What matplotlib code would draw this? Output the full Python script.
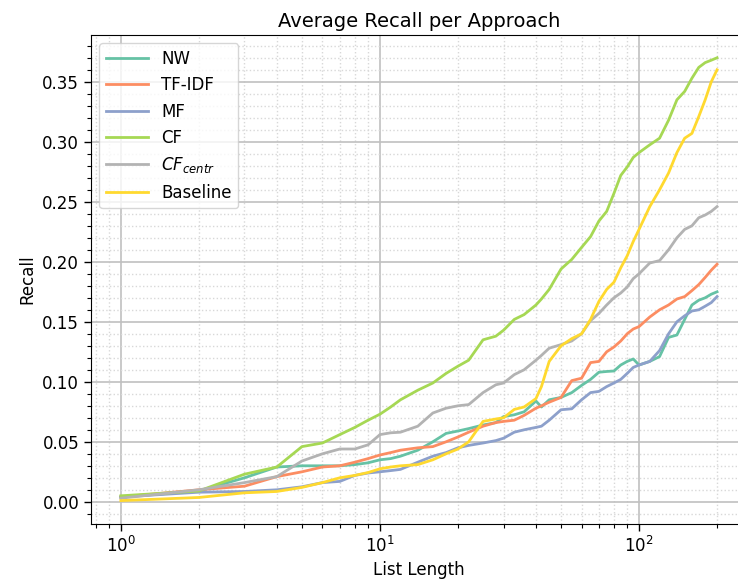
import matplotlib
matplotlib.use("Agg")
import matplotlib.pyplot as plt
from matplotlib.ticker import MultipleLocator

list_length = [1, 2, 3, 4, 5, 6, 7, 8, 9, 10, 11, 12, 14, 16, 18, 20, 22, 25, 28, 30,
               33, 36, 40, 42, 45, 50, 55, 60, 65, 70, 75, 80, 85, 90, 95, 100,
               110, 120, 130, 140, 150, 160, 170, 180, 190, 200]

recall_nw = [0.004, 0.009, 0.020, 0.029, 0.030, 0.030, 0.030, 0.031, 0.0325, 0.035,
             0.036, 0.038, 0.043, 0.050, 0.057, 0.059, 0.061, 0.064, 0.066, 0.071,
             0.0725, 0.075, 0.084, 0.079, 0.085, 0.087, 0.091, 0.097, 0.102, 0.108,
             0.1086, 0.109, 0.114, 0.117, 0.119, 0.114, 0.117, 0.121, 0.137, 0.139,
             0.152, 0.164, 0.168, 0.170, 0.173, 0.175]
recall_tfidf = [0.004, 0.010, 0.013, 0.021, 0.025, 0.029, 0.030, 0.033, 0.036, 0.039,
                0.041, 0.043, 0.045, 0.046, 0.050, 0.054, 0.058, 0.063, 0.066, 0.067,
                0.068, 0.072, 0.078, 0.080, 0.083, 0.087, 0.101, 0.103, 0.116, 0.117,
                0.125, 0.129, 0.134, 0.140, 0.144, 0.146, 0.154, 0.160, 0.164, 0.169,
                0.171, 0.176, 0.181, 0.187, 0.193, 0.198]
recall_mf = [0.004, 0.008, 0.0086, 0.010, 0.0125, 0.016, 0.017, 0.022, 0.024, 0.025,
             0.026, 0.027, 0.033, 0.038, 0.041, 0.045, 0.047, 0.049, 0.051, 0.053,
             0.058, 0.060, 0.062, 0.063, 0.068, 0.0767, 0.0775, 0.085, 0.091, 0.092,
             0.096, 0.099, 0.102, 0.107, 0.112, 0.114, 0.117, 0.126, 0.140, 0.150,
             0.155, 0.159, 0.160, 0.163, 0.166, 0.171]
recall_cf = [0.005, 0.009, 0.023, 0.029, 0.046, 0.049, 0.056, 0.062, 0.068, 0.073,
             0.079, 0.085, 0.093, 0.099, 0.107, 0.113, 0.118, 0.135, 0.138, 0.143,
             0.152, 0.156, 0.164, 0.169, 0.177, 0.194, 0.202, 0.212, 0.221, 0.234,
             0.242, 0.257, 0.272, 0.279, 0.287, 0.291, 0.2975, 0.303, 0.318, 0.335,
             0.342, 0.353, 0.362, 0.366, 0.368, 0.370]
recall_cf_centr = [0.003, 0.010, 0.016, 0.021, 0.034, 0.040, 0.044, 0.044, 0.0475, 0.056,
                   0.0575, 0.058, 0.063, 0.074, 0.078, 0.080, 0.081, 0.091, 0.0975, 0.099,
                   0.106, 0.110, 0.118, 0.122, 0.128, 0.131, 0.134, 0.140, 0.151, 0.157,
                   0.164, 0.170, 0.174, 0.179, 0.186, 0.190, 0.199, 0.201, 0.210, 0.220,
                   0.227, 0.230, 0.2367, 0.239, 0.242, 0.246]
recall_baseline = [0.001, 0.0036, 0.0075, 0.0086, 0.012, 0.016, 0.020, 0.022, 0.0244, 0.0275,
                   0.029, 0.030, 0.031, 0.035, 0.040, 0.044, 0.050, 0.067, 0.069, 0.070,
                   0.077, 0.079, 0.086, 0.096, 0.117, 0.130, 0.136, 0.140, 0.152, 0.167,
                   0.177, 0.183, 0.195, 0.205, 0.217, 0.227, 0.246, 0.260, 0.274, 0.291,
                   0.303, 0.307, 0.321, 0.335, 0.350, 0.360]

labels = ["NW", "TF-IDF", "MF", "CF", "$CF_{centr}$", "Baseline"]
colors = ["#66c2a5", "#fc8d62", "#8da0cb", "#a6d854", "#b3b3b3", "#ffd92f"]
series = [recall_nw, recall_tfidf, recall_mf, recall_cf, recall_cf_centr, recall_baseline]

fig = plt.figure(figsize=(7.38, 5.88), dpi=100)
# axes runs a little past the right edge, like the reference crop
ax = fig.add_axes([91 / 738, 64 / 588, 656 / 738, 489 / 588])

for vals, lab, col in zip(series, labels, colors):
    ax.plot(list_length, vals, color=col, lw=2, label=lab)

ax.set_xscale("log")
ax.set_xlim(0.767, 261)
ax.set_ylim(-0.0185, 0.389)
ax.yaxis.set_major_locator(MultipleLocator(0.05))
ax.yaxis.set_minor_locator(MultipleLocator(0.01))

ax.grid(which="major", color="#c0c0c0", lw=1.2, ls="-")
ax.grid(which="minor", color="#d8d8d8", lw=1.0, ls=":")
ax.set_axisbelow(True)

ax.tick_params(which="major", labelsize=12, length=5, width=1)
ax.tick_params(which="minor", length=3, width=0.8)

ax.set_title("Average Recall per Approach", fontsize=14)
ax.set_xlabel("List Length", fontsize=12)
ax.set_ylabel("Recall", fontsize=12)

ax.legend(loc="upper left", fontsize=12, handlelength=2.5)

fig.savefig("out.png", dpi=100)
